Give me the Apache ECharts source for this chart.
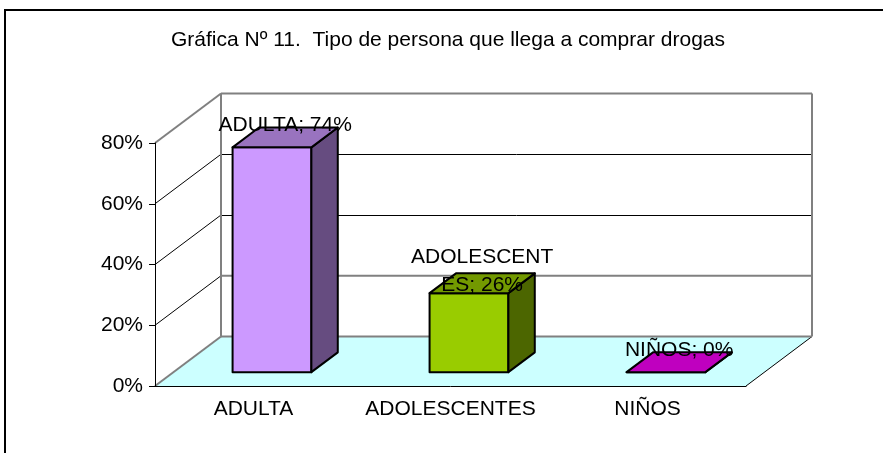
<!DOCTYPE html>
<html>
<head>
<meta charset="utf-8">
<script src="https://cdn.jsdelivr.net/npm/echarts@6/dist/echarts.min.js"></script>
<style>
html,body{margin:0;padding:0;background:#fff;}
#c{width:883px;height:453px;}
</style>
</head>
<body>
<div id="c"></div>
<script>
// ---- data ----
const titleText = 'Gráfica Nº 11.  Tipo de persona que llega a comprar drogas';
const categories = ['ADULTA', 'ADOLESCENTES', 'NIÑOS'];
const values = [0.74, 0.26, 0.0];
const yTicks = [0, 0.2, 0.4, 0.6, 0.8];

// ---- style ----
const FONT = 'Liberation Sans, Arial, sans-serif';
const FS = 21;
const DX = 66, DY = -49.5;         // depth projection of the 3D box
const Z1 = 0.28, Z2 = 0.68;        // bar depth range (fraction of depth)
const BAR_W = 0.4;                 // bar width as fraction of band
const barColors = [
  {front: '#CC99FF', top: '#9973BF', side: '#664C80'},
  {front: '#99CC00', top: '#739900', side: '#4C6600'},
  {front: '#FF00FF', top: '#BF00BF', side: '#800080'}
];
const GRAY = '#808080';

const chart = echarts.init(document.getElementById('c'), null, {renderer: 'canvas'});

function wallsRender(params, api) {
  const v = api.value(1);
  const bw = api.size([1, 0])[0];
  const p = api.coord([0, v]);
  const xl = p[0] - bw / 2;
  const xr = api.coord([categories.length - 1, v])[0] + bw / 2;
  const y = p[1];
  const y0 = api.coord([0, 0])[1];
  const children = [];
  const line = (x1, y1, x2, y2, color, w) => ({
    type: 'line', shape: {x1, y1, x2, y2},
    style: {stroke: color, lineWidth: w}
  });
  const maxV = yTicks[yTicks.length - 1];
  if (v === 0) {
    children.push({
      type: 'polygon',
      shape: {points: [[xl, y], [xr, y], [xr + DX, y + DY], [xl + DX, y + DY]]},
      style: {fill: '#CCFFFF', stroke: null}
    });
    children.push(line(xr, y, xr + DX, y + DY, '#000', 1));
    children.push(line(xl, y, xl + DX, y + DY, GRAY, 2));
    children.push(line(xl + DX, y + DY, xr + DX, y + DY, GRAY, 2));
  } else if (v === maxV) {
    children.push(line(xl, y, xl + DX, y + DY, GRAY, 2));
    children.push(line(xl + DX, y + DY, xr + DX, y + DY, GRAY, 2));
    children.push(line(xl + DX, y + DY, xl + DX, y0 + DY, GRAY, 2));
    children.push(line(xr + DX, y + DY, xr + DX, y0 + DY, GRAY, 2));
  } else {
    const lowest = v === yTicks[1];
    const yy = lowest ? y + DY : Math.round(y + DY) + 0.5;
    children.push(line(xl, y, xl + DX, y + DY, '#000', 1));
    children.push(line(xl + DX, yy, xr + DX, yy, lowest ? GRAY : '#000', lowest ? 2 : 1));
  }
  return {type: 'group', children};
}

function barRender(params, api) {
  const i = api.value(0);
  const v = api.value(1);
  const c = api.coord([i, v]);
  const b = api.coord([i, 0]);
  const bw = api.size([1, 0])[0];
  const hw = bw * BAR_W / 2;
  const col = barColors[i];
  const xl1 = c[0] - hw + Z1 * DX, xr1 = c[0] + hw + Z1 * DX;
  const yt1 = c[1] + Z1 * DY, yb1 = b[1] + Z1 * DY;
  const ddx = (Z2 - Z1) * DX, ddy = (Z2 - Z1) * DY;
  const st = (fill) => ({fill, stroke: '#000', lineWidth: 2, lineJoin: 'round'});
  const zm = (Z1 + Z2) / 2;
  const label = categories[i] + '; ' + Math.round(v * 100) + '%';
  return {
    type: 'group',
    children: [
      {type: 'polygon', shape: {points: [[xl1, yt1], [xr1, yt1], [xr1, yb1], [xl1, yb1]]}, style: st(col.front)},
      {type: 'polygon', shape: {points: [[xr1, yt1], [xr1, yb1], [xr1 + ddx, yb1 + ddy], [xr1 + ddx, yt1 + ddy]]}, style: st(col.side)},
      {type: 'polygon', shape: {points: [[xl1, yt1], [xr1, yt1], [xr1 + ddx, yt1 + ddy], [xl1 + ddx, yt1 + ddy]]}, style: st(col.top)},
      {type: 'text', style: {
        text: label, x: c[0] + zm * DX, y: c[1] + zm * DY - 12,
        align: 'center', verticalAlign: 'middle',
        font: FS + 'px ' + FONT, fill: '#000',
        width: 150, overflow: 'breakAll', lineHeight: 28
      }}
    ]
  };
}

chart.setOption({
  animation: false,
  backgroundColor: '#fff',
  title: {
    text: titleText,
    left: 443, top: 25, textAlign: 'center',
    textStyle: {fontFamily: FONT, fontSize: FS, fontWeight: 'normal', color: '#000'}
  },
  graphic: [{
    type: 'rect', shape: {x: 5, y: 10, width: 1000, height: 1000},
    style: {fill: null, stroke: '#000', lineWidth: 2}, z: 100
  }],
  grid: {left: 155, right: 137, top: 143, bottom: 67, containLabel: false},
  xAxis: {
    type: 'category', data: categories, z: 10,
    axisLine: {lineStyle: {color: '#000', width: 1}},
    axisTick: {length: 6, lineStyle: {color: '#000'}},
    axisLabel: {color: '#000', fontFamily: FONT, fontSize: FS, margin: 13, interval: 0}
  },
  yAxis: {
    type: 'value', min: 0, max: 0.8, interval: 0.2, z: 10,
    axisLine: {show: true, lineStyle: {color: '#000', width: 1}},
    axisTick: {show: true, length: 6, lineStyle: {color: '#000'}},
    splitLine: {show: false},
    axisLabel: {color: '#000', fontFamily: FONT, fontSize: FS, margin: 12,
      formatter: (v) => Math.round(v * 100) + '%'}
  },
  series: [
    {
      type: 'custom', z: 1, silent: true,
      renderItem: wallsRender,
      data: yTicks.map(v => [0, v]),
      encode: {x: 0, y: 1}
    },
    {
      type: 'custom', z: 5,
      renderItem: barRender,
      data: values.map((v, i) => [i, v]),
      encode: {x: 0, y: 1}
    }
  ]
});
</script>
</body>
</html>
